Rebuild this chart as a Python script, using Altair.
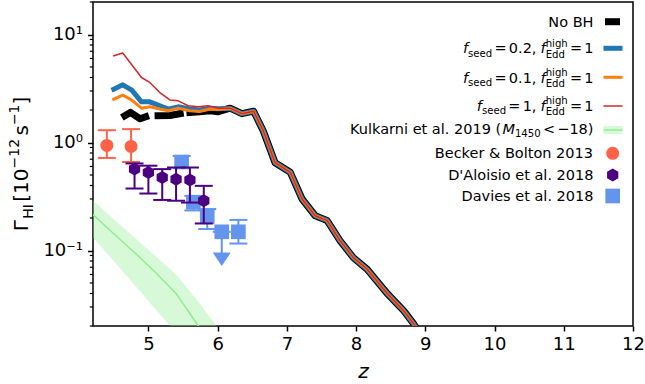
import altair as alt
import pandas as pd

FONT = "DejaVu Sans"

# ---------------------------------------------------------------------------
# Simulated H I photoionisation rate (units of 1e-12 s^-1) against redshift.
# All four runs coincide above z ~ 6.2.
# ---------------------------------------------------------------------------
z_common = [6.18, 6.35, 6.52, 6.66, 6.83, 7.05, 7.22, 7.41, 7.58, 7.77,
            7.96, 8.16, 8.45, 8.69, 8.83, 8.95]
g_common = [2.08, 1.85, 1.95, 1.28, 0.65, 0.53, 0.30, 0.21, 0.19, 0.123,
            0.086, 0.067, 0.040, 0.0276, 0.021, 0.016]

z_seed = [4.50, 4.63, 4.76, 4.90, 5.02, 5.165, 5.285, 5.43, 5.60, 5.74, 5.89, 6.01]
g_seed02 = [3.12, 3.42, 3.06, 2.38, 2.38, 2.19, 2.04, 2.14, 2.04, 2.00, 2.08, 2.05]
g_seed01 = [2.52, 2.75, 2.47, 2.08, 2.14, 2.04, 1.97, 2.08, 1.97, 1.94, 2.04, 2.02]

z_seed1 = [4.50, 4.63, 4.90, 5.02, 5.165, 5.31, 5.43, 5.575, 5.72, 5.86, 6.01]
g_seed1 = [6.35, 6.75, 4.00, 3.60, 2.90, 2.48, 2.43, 2.19, 2.14, 2.19, 2.08]

# the no-BH run is drawn in three stretches below z = 6.2
z_nobh = [4.66, 4.74, 4.88, 4.96, 5.14, 5.31, 5.46, 5.60, 5.74, 5.89, 6.01]
g_nobh = [1.77, 1.90, 1.66, 1.73, 1.77, 1.78, 1.85, 1.90, 1.93, 1.97, 1.93]
seg_nobh = [0, 0, 0, 0, 1, 1, 1, 2, 2, 2, 2]

# Kulkarni et al. 2019 model band (M1450 < -18)
kul_z = [4.2, 4.5, 4.8, 5.1, 5.4, 5.7, 6.0]
kul_mid = [0.215, 0.143, 0.096, 0.063, 0.040, 0.021, 0.011]
kul_hi = [0.29, 0.195, 0.132, 0.089, 0.060, 0.035, 0.0195]
kul_lo = [0.131, 0.080, 0.048, 0.0287, 0.0174, 0.0095, 0.005]

# Becker & Bolton 2013
bb_z = [4.40, 4.75]
bb_g = [0.94, 0.92]
bb_lo = [0.72, 0.66]
bb_hi = [1.30, 1.33]

# D'Aloisio et al. 2018
da_z = [4.8, 5.0, 5.2, 5.4, 5.6, 5.8]
da_g = [0.567, 0.527, 0.474, 0.458, 0.449, 0.289]
da_lo = [0.375, 0.337, 0.294, 0.289, 0.278, 0.178]
da_hi = [0.64, 0.61, 0.567, 0.587, 0.587, 0.397]

# Davies et al. 2018 (measurements, plus one upper limit)
dv_z = [5.48, 5.65, 5.85, 6.30]
dv_g = [0.66, 0.28, 0.205, 0.149]
dv_lo = [0.58, 0.235, 0.158, 0.116]
dv_hi = [0.75, 0.32, 0.242, 0.192]
dv_ul_z = [6.06]
dv_ul_g = [0.149]
dv_ul_head = [0.083]

x_ticks = [5, 6, 7, 8, 9, 10, 11, 12]
y_major = [0.1, 1, 10]
y_minor = [0.02, 0.03, 0.04, 0.05, 0.06, 0.07, 0.08, 0.09,
           0.2, 0.3, 0.4, 0.5, 0.6, 0.7, 0.8, 0.9,
           2, 3, 4, 5, 6, 7, 8, 9, 20]

C_NOBH, C_02, C_01, C_1 = "black", "#1f77b4", "#ff7f0e", "#d62728"
C_KUL, C_BB, C_DA, C_DV = "lightgreen", "tomato", "indigo", "cornflowerblue"

HEX = "M0,-1L0.866,-0.5L0.866,0.5L0,1L-0.866,0.5L-0.866,-0.5Z"
CAP = "M-1,0L1,0"
TRI_DOWN = "M-0.9,-0.665L0.9,-0.665L0,0.665Z"

W, H = 540, 324
LEFT, TOP = 93, 2

xscale = alt.Scale(domain=[4.2, 12], nice=False, zero=False)
yscale = alt.Scale(type="log", domain=[0.02, 20], nice=False)
xaxis = alt.Axis(values=x_ticks, title="z", tickSize=5, labelFontSize=18,
                 labelPadding=4, labelFlush=False, titleFontSize=20,
                 titleFontStyle="italic", titleFontWeight="normal",
                 titlePadding=8, titleColor="black")
yaxis = alt.Axis(values=y_major, title=None, tickSize=5.5, labelFontSize=18,
                 labelPadding=5, labelFlush=False, labelOverlap=False,
                 labelExpr="datum.value > 5 ? '10\u00b9' : datum.value > 0.5 ? '10\u2070' : '10\u207b\u00b9'")


def xe():
    return alt.X("z:Q", scale=xscale, axis=xaxis)


def ye(field="g"):
    return alt.Y(field + ":Q", scale=yscale, axis=yaxis)


def run_frame(z_early, g_early):
    return pd.DataFrame({"z": z_early + z_common, "g": g_early + g_common})


layers = []

# Kulkarni band and median
kul = pd.DataFrame({"z": kul_z, "g": kul_mid, "lo": kul_lo, "hi": kul_hi})
layers.append(alt.Chart(kul).mark_area(color=C_KUL, opacity=0.35, clip=True)
              .encode(x=xe(), y=ye("lo"), y2="hi:Q"))
layers.append(alt.Chart(kul).mark_line(color=C_KUL, strokeWidth=1.5, clip=True)
              .encode(x=xe(), y=ye()))

# simulation runs
nobh = pd.DataFrame({"z": z_nobh + z_common, "g": g_nobh + g_common,
                     "seg": seg_nobh + [2] * len(z_common)})
line_style = dict(clip=True, strokeJoin="round", strokeCap="square")
layers.append(alt.Chart(nobh).mark_line(color=C_NOBH, strokeWidth=7, **line_style)
              .encode(x=xe(), y=ye(), detail="seg:N"))
layers.append(alt.Chart(run_frame(z_seed, g_seed02)).mark_line(color=C_02, strokeWidth=5, **line_style)
              .encode(x=xe(), y=ye()))
layers.append(alt.Chart(run_frame(z_seed, g_seed01)).mark_line(color=C_01, strokeWidth=3, **line_style)
              .encode(x=xe(), y=ye()))
layers.append(alt.Chart(run_frame(z_seed1, g_seed1)).mark_line(color=C_1, strokeWidth=1.5, **line_style)
              .encode(x=xe(), y=ye()))


def error_layers(z, g, lo, hi, color, shape, size):
    df = pd.DataFrame({"z": z, "g": g, "lo": lo, "hi": hi})
    caps = pd.DataFrame({"z": z + z, "g": lo + hi})
    return [
        alt.Chart(df).mark_rule(color=color, strokeWidth=2).encode(x=xe(), y=ye("lo"), y2="hi:Q"),
        alt.Chart(caps).mark_point(shape=CAP, size=324, strokeWidth=2, color=color,
                                   filled=False, opacity=1).encode(x=xe(), y=ye()),
        alt.Chart(df).mark_point(shape=shape, size=size, filled=True, color=color,
                                 opacity=1).encode(x=xe(), y=ye()),
    ]


layers += error_layers(bb_z, bb_g, bb_lo, bb_hi, C_BB, "circle", 170)
layers += error_layers(dv_z, dv_g, dv_lo, dv_hi, C_DV, "square", 215)

# Davies upper limit: arrow shaft, head, cap and square
ul = pd.DataFrame({"z": dv_ul_z, "g": dv_ul_g, "head": dv_ul_head})
layers.append(alt.Chart(ul).mark_rule(color=C_DV, strokeWidth=2)
              .encode(x=xe(), y=ye(), y2="head:Q"))
layers.append(alt.Chart(ul).mark_point(shape=TRI_DOWN, size=400, filled=True, color=C_DV, opacity=1)
              .encode(x=xe(), y=ye("head")))
layers.append(alt.Chart(ul).mark_point(shape=CAP, size=324, strokeWidth=2, color=C_DV,
                                       filled=False, opacity=1).encode(x=xe(), y=ye()))
layers.append(alt.Chart(ul).mark_point(shape="square", size=215, filled=True, color=C_DV, opacity=1)
              .encode(x=xe(), y=ye()))

layers += error_layers(da_z, da_g, da_lo, da_hi, C_DA, HEX, 169)

# minor ticks of the logarithmic axis
minor = pd.DataFrame({"g": y_minor})
layers.append(alt.Chart(minor).mark_rule(color="black", strokeWidth=1.2)
              .encode(y=ye(), x=alt.value(-3.2), x2=alt.value(0)))

# ---------------------------------------------------------------------------
# text helpers (DejaVu Sans advance widths, units of 1/2048 em)
# ---------------------------------------------------------------------------
ADV = {" ": 651, "&": 1595, "'": 563, "(": 799, ")": 799, ",": 651, ".": 651,
       "<": 1716, "=": 1716, "\u2212": 1716, "[": 799, "]": 799,
       "A": 1401, "B": 1405, "D": 1577, "E": 1294, "H": 1540, "I": 604,
       "K": 1343, "M": 1767, "N": 1532, "\u0393": 1284,
       "a": 1255, "c": 1126, "d": 1300, "e": 1260, "f": 721, "g": 1300,
       "h": 1298, "i": 569, "k": 1186, "l": 569, "n": 1298, "o": 1253,
       "r": 842, "s": 1067, "t": 803, "u": 1298, "v": 1212}
for d in "0123456789":
    ADV[d] = 1303


def tw(s, size):
    return sum(ADV[c] for c in s) / 2048.0 * size


def piece_widths(pieces, f):
    small = 0.7 * f
    out = []
    for kind, c in pieces:
        if kind == "gap":
            out.append(c * f)
        elif kind in ("n", "i"):
            out.append(tw(c, f))
        elif kind in ("s", "sp"):
            out.append(tw(c, small))
        else:
            out.append(max(tw(c[0], small), tw(c[1], small)))
    return out


def text_items(pieces, f):
    """Return (text, offset along baseline, shift across baseline, size, style) items."""
    small = 0.7 * f
    pos = 0.0
    items = []
    for (kind, c), w in zip(pieces, piece_widths(pieces, f)):
        if kind == "n":
            items.append((c, pos, 0.0, f, "normal"))
        elif kind == "i":
            items.append((c, pos, 0.0, f, "italic"))
        elif kind == "s":
            items.append((c, pos, 0.24 * f, small, "normal"))
        elif kind == "sp":
            items.append((c, pos, -0.45 * f, small, "normal"))
        elif kind == "ss":
            items.append((c[0], pos, 0.3 * f, small, "normal"))
            items.append((c[1], pos, -0.45 * f, small, "normal"))
        pos += w
    return items, pos


one = pd.DataFrame({"k": [0]})


def text_layer(text, x, y, size, style, angle=0, align="left"):
    return alt.Chart(one).mark_text(
        text=text, align=align, baseline="alphabetic", font=FONT, fontSize=size,
        fontStyle=style, color="black", angle=angle,
    ).encode(x=alt.value(x), y=alt.value(y))


# y-axis title, rotated
YT_F = 20
ytitle = [("n", "\u0393"), ("s", "HI"), ("gap", 0.12), ("n", "[10"), ("sp", "\u221212"),
          ("gap", 0.17), ("n", "s"), ("sp", "\u22121"), ("n", "]")]
items, total = text_items(ytitle, YT_F)
y_start = 164 - TOP + total / 2
for t, pos, shift, size, style in items:
    layers.append(text_layer(t, 28 - LEFT + shift, y_start - pos, size, style, angle=270))

# ---------------------------------------------------------------------------
# legend (labels right-aligned, handles on the right)
# ---------------------------------------------------------------------------
LF = 14.5
legend_labels = [
    [("n", "No BH")],
    [("i", "f"), ("s", "seed"), ("gap", 0.15), ("n", "="), ("gap", 0.15), ("n", "0.2,"),
     ("gap", 0.28), ("i", "f"), ("ss", ("Edd", "high")), ("gap", 0.15), ("n", "="),
     ("gap", 0.15), ("n", "1")],
    [("i", "f"), ("s", "seed"), ("gap", 0.15), ("n", "="), ("gap", 0.15), ("n", "0.1,"),
     ("gap", 0.28), ("i", "f"), ("ss", ("Edd", "high")), ("gap", 0.15), ("n", "="),
     ("gap", 0.15), ("n", "1")],
    [("i", "f"), ("s", "seed"), ("gap", 0.15), ("n", "="), ("gap", 0.15), ("n", "1,"),
     ("gap", 0.28), ("i", "f"), ("ss", ("Edd", "high")), ("gap", 0.15), ("n", "="),
     ("gap", 0.15), ("n", "1")],
    [("n", "Kulkarni et al. 2019 ("), ("i", "M"), ("s", "1450"), ("gap", 0.15), ("n", "<"),
     ("gap", 0.15), ("n", "\u221218"), ("n", ")")],
    [("n", "Becker & Bolton 2013")],
    [("n", "D'Aloisio et al. 2018")],
    [("n", "Davies et al. 2018")],
]
legend_base = [26.7, 53.3, 82.7, 111, 134, 158.3, 180, 201]
legend_mid = [21.7, 48.3, 77.3, 106, 130, 153.3, 175, 196]
X_END = 593.5
for pieces, base in zip(legend_labels, legend_base):
    items, total = text_items(pieces, LF)
    x0 = X_END - total
    for t, pos, shift, size, style in items:
        layers.append(text_layer(t, x0 + pos - LEFT, base + shift - TOP, size, style))

HX0, HX1, HXM = 603.5, 622.5, 612.7


def handle_line(color, width, y, x0=HX0, x1=HX1):
    return alt.Chart(one).mark_rule(color=color, strokeWidth=width).encode(
        x=alt.value(x0 - LEFT), x2=alt.value(x1 - LEFT), y=alt.value(y - TOP))


def handle_point(shape, size, color, y):
    return alt.Chart(one).mark_point(shape=shape, size=size, filled=True, color=color,
                                     opacity=1).encode(x=alt.value(HXM - LEFT), y=alt.value(y - TOP))


layers.append(handle_line(C_NOBH, 7, legend_mid[0], 605, 620))
layers.append(handle_line(C_02, 5, legend_mid[1]))
layers.append(handle_line(C_01, 3, legend_mid[2]))
layers.append(handle_line(C_1, 1.5, legend_mid[3]))
layers.append(alt.Chart(one).mark_rect(color=C_KUL, opacity=0.35).encode(
    x=alt.value(HX0 - LEFT), x2=alt.value(HX1 - LEFT),
    y=alt.value(legend_mid[4] - 4 - TOP), y2=alt.value(legend_mid[4] + 4 - TOP)))
layers.append(handle_line(C_KUL, 1.5, legend_mid[4]))
layers.append(handle_point("circle", 170, C_BB, legend_mid[5]))
layers.append(handle_point(HEX, 169, C_DA, legend_mid[6]))
layers.append(handle_point("square", 215, C_DV, legend_mid[7]))

chart = alt.layer(*layers).properties(
    width=W, height=H,
    autosize=alt.AutoSizeParams(type="none"),
    padding={"left": LEFT, "top": TOP, "right": 645 - LEFT - W, "bottom": 384 - TOP - H},
).configure_view(
    stroke="black", strokeWidth=1.5
).configure_axis(
    labelFont=FONT, titleFont=FONT, labelColor="black", tickColor="black",
    tickWidth=1.5, grid=False, domain=False
)

chart.save("out.html", embed_options={"renderer": "svg", "actions": False})
